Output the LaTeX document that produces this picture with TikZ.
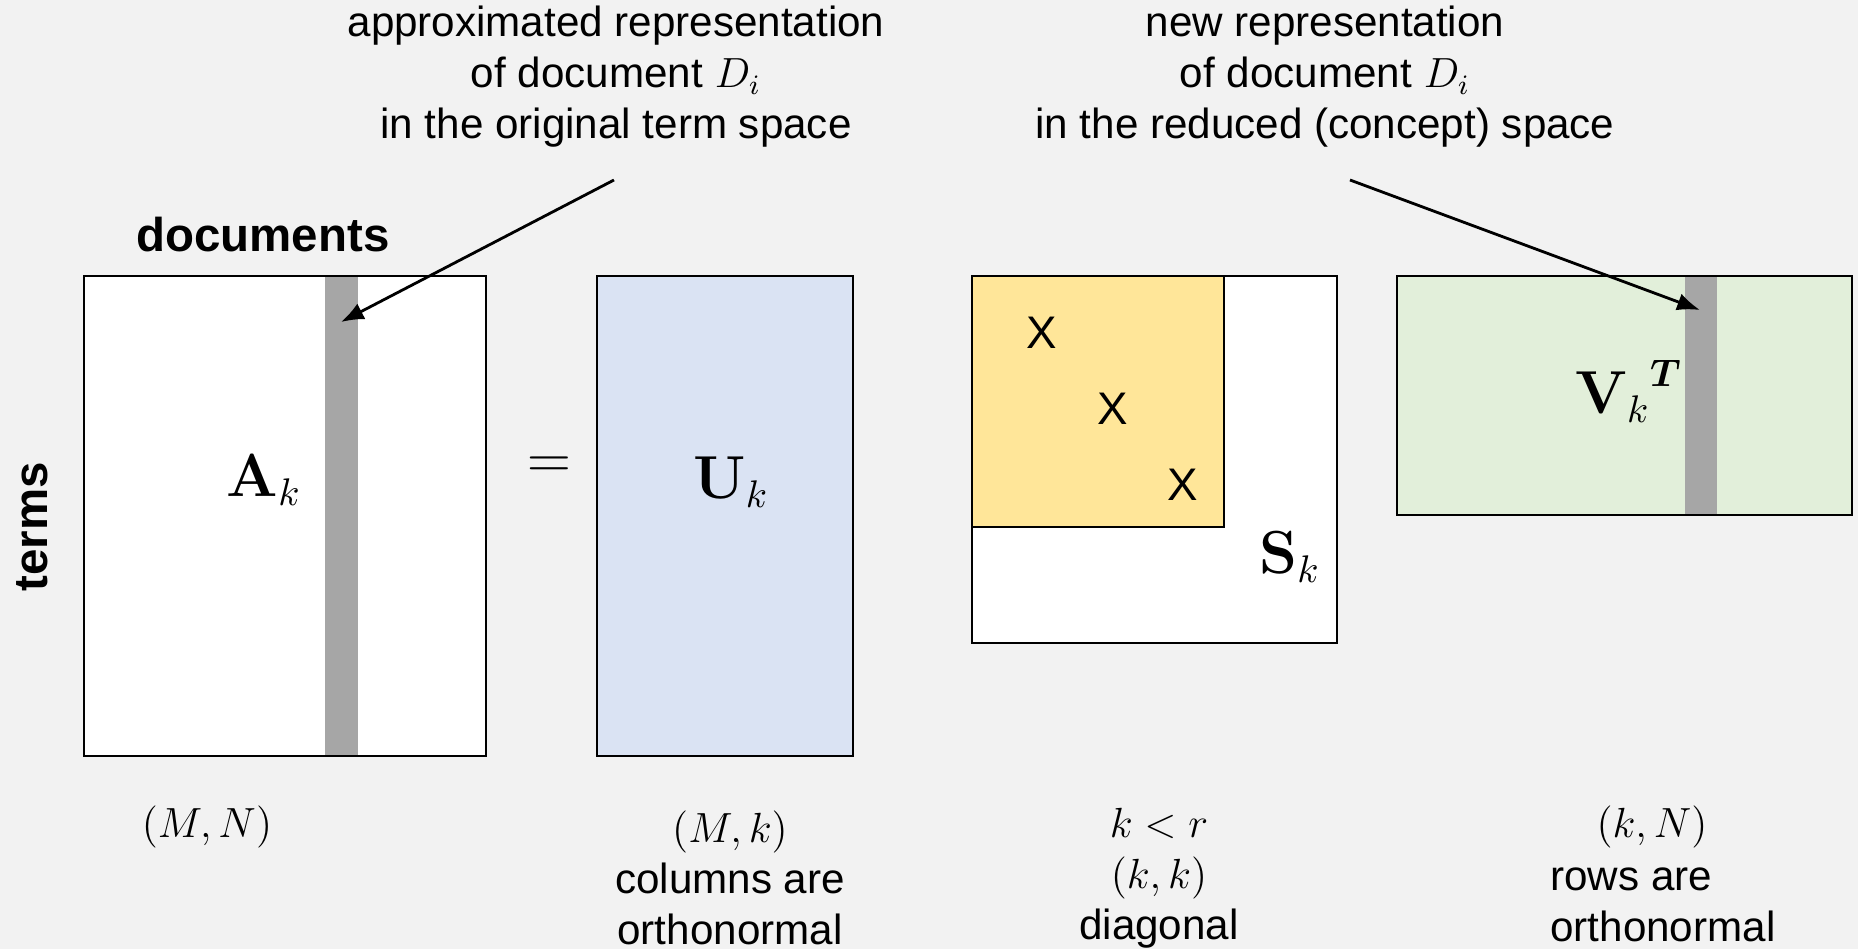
\documentclass[tikz,border=0pt]{standalone}
\usepackage{amsmath}
\usepackage{amssymb}
\usepackage[no-math]{fontspec}
\setmainfont{Liberation Sans}
\usepackage{tikz}
\usetikzlibrary{arrows.meta, positioning}

\definecolor{bgcol}{HTML}{F2F2F2}
\definecolor{ucol}{HTML}{DAE3F3}
\definecolor{scol}{HTML}{FFE699}
\definecolor{vcol}{HTML}{E2EFDA}
\definecolor{barcol}{HTML}{A6A6A6}

\begin{document}
\begin{tikzpicture}[
    mat/.style={draw, line width=0.8pt, fill=white, anchor=north west,
                inner sep=0pt, outer sep=0pt},
    colbar/.style={fill=barcol, anchor=north west, inner sep=0pt, outer sep=0pt},
    txt/.style={align=center, font=\fontsize{12}{14.5}\selectfont},
    big/.style={font=\fontsize{16}{19}\selectfont},
    head/.style={font=\fontsize{13.5}{16}\selectfont\bfseries},
    arr/.style={-{Latex[length=6.5pt,width=5pt]}, line width=0.8pt}
]
    % background and page size
    \fill[bgcol] (0,0) rectangle (18.58,-9.49);
    \useasboundingbox (0,0) rectangle (18.58,-9.49);

    % matrix A_k
    \node[mat, minimum width=4.02cm, minimum height=4.80cm] (A) at (0.84,-2.76) {};
    \node[colbar, minimum width=0.33cm, minimum height=4.78cm] (Abar) at (3.25,-2.77) {};
    \node[big] (Alab) at (2.64,-4.80) {$\mathbf{A}_k$};
    \node[head] (docs) at (2.63,-2.35) {documents};
    \node[head, rotate=90] (terms) at (0.32,-5.27) {terms};

    % equals sign
    \node[big] (eq) at (5.49,-4.68) {$=$};

    % matrix U_k
    \node[mat, fill=ucol, minimum width=2.56cm, minimum height=4.80cm] (U) at (5.97,-2.76) {};
    \node[big] (Ulab) at (7.31,-4.82) {$\mathbf{U}_k$};

    % matrix S_k
    \node[mat, minimum width=3.65cm, minimum height=3.67cm] (S) at (9.72,-2.76) {};
    \node[mat, fill=scol, minimum width=2.52cm, minimum height=2.51cm] (Sk) at (9.72,-2.76) {};
    \foreach \i/\x/\y in {1/10.42/-3.33, 2/11.13/-4.09, 3/11.83/-4.85}
        \node[font=\fontsize{13}{15}\selectfont] (x\i) at (\x,\y) {X};
    \node[big] (Slab) at (12.90,-5.57) {$\mathbf{S}_k$};

    % matrix V_k^T
    \node[mat, fill=vcol, minimum width=4.55cm, minimum height=2.39cm] (V) at (13.97,-2.76) {};
    \node[colbar, minimum width=0.32cm, minimum height=2.37cm] (Vbar) at (16.85,-2.77) {};
    \node[big] (Vlab) at (16.29,-3.91) {${\mathbf{V}_k}^{\boldsymbol{T}}$};

    % captions on top
    \node[txt] (capA) at (6.16,-0.77)
        {approximated representation\\ of document $D_i$\\ in the original term space};
    \node[txt] (capV) at (13.25,-0.77)
        {new representation\\ of document $D_i$\\ in the reduced (concept) space};

    % pointer arrows
    \coordinate (fromA) at (6.14,-1.80);
    \coordinate (toA) at (3.41,-3.22);
    \coordinate (fromV) at (13.50,-1.80);
    \coordinate (toV) at (17.00,-3.10);
    \draw[arr] (fromA) -- (toA);
    \draw[arr] (fromV) -- (toV);

    % dimensions below
    \node[txt] (dimA) at (2.07,-8.27) {$(M,N)$};
    \node[txt] (dimU) at (7.30,-8.78) {$(M,k)$\\ columns are\\ orthonormal};
    \node[txt] (dimS) at (11.59,-8.78) {$k<r$\\ $(k,k)$\\ diagonal};
    \node[txt] (dimV) at (16.52,-8.27) {$(k,N)$};
    \node[txt, align=left, anchor=west] (rowsV) at (15.38,-9.05) {rows are\\ orthonormal};
\end{tikzpicture}
\end{document}
